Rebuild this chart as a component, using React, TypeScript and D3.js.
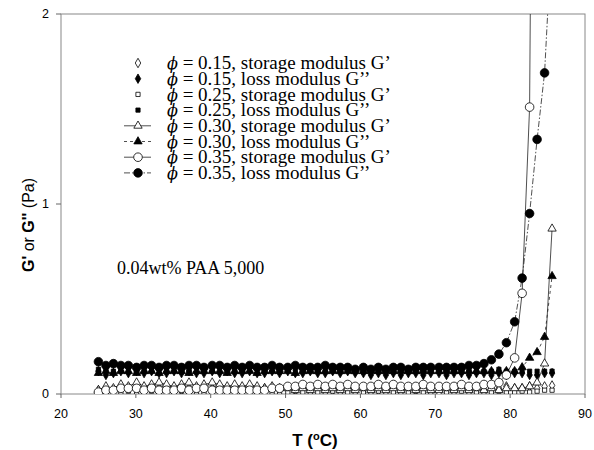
import * as d3 from 'd3'

// temperature readings (°C), shared by all series
const temps = [
  25.0, 26.0, 27.0, 28.0, 29.0, 30.1, 31.1, 32.1, 33.1, 34.1,
  35.1, 36.1, 37.1, 38.1, 39.1, 40.2, 41.2, 42.2, 43.2, 44.2,
  45.2, 46.2, 47.2, 48.2, 49.2, 50.3, 51.3, 52.3, 53.3, 54.3,
  55.3, 56.3, 57.3, 58.3, 59.3, 60.4, 61.4, 62.4, 63.4, 64.4,
  65.4, 66.4, 67.4, 68.4, 69.4, 70.5, 71.5, 72.5, 73.5, 74.5,
  75.5, 76.5, 77.5, 78.5, 79.5, 80.6, 81.6, 82.6, 83.6, 84.6,
  85.6,
]

const phi15Storage = [
  0.02, 0.03, 0.02, 0.03, 0.03, 0.04, 0.02, 0.03, 0.03, 0.02,
  0.03, 0.02, 0.03, 0.02, 0.03, 0.03, 0.02, 0.03, 0.02, 0.03,
  0.02, 0.02, 0.03, 0.02, 0.02, 0.03, 0.02, 0.03, 0.02, 0.03,
  0.02, 0.02, 0.03, 0.02, 0.03, 0.02, 0.03, 0.02, 0.02, 0.03,
  0.02, 0.03, 0.02, 0.03, 0.02, 0.02, 0.03, 0.02, 0.03, 0.02,
  0.03, 0.02, 0.03, 0.03, 0.04, 0.03, 0.03, 0.04, 0.03, 0.04,
  0.045,
]
const phi15Loss = [
  0.12, 0.10, 0.11, 0.12, 0.11, 0.12, 0.11, 0.12, 0.11, 0.11,
  0.12, 0.11, 0.12, 0.11, 0.11, 0.12, 0.11, 0.12, 0.11, 0.11,
  0.12, 0.11, 0.11, 0.12, 0.11, 0.12, 0.11, 0.11, 0.12, 0.11,
  0.11, 0.12, 0.11, 0.12, 0.11, 0.11, 0.10, 0.11, 0.10, 0.11,
  0.10, 0.11, 0.11, 0.10, 0.11, 0.11, 0.10, 0.11, 0.11, 0.10,
  0.11, 0.11, 0.10, 0.11, 0.10, 0.11, 0.11, 0.10, 0.10, 0.11,
  0.11,
]
const phi25Storage = [
  0.005, 0.01, 0.01, 0.01, 0.015, 0.01, 0.01, 0.015, 0.01, 0.01,
  0.01, 0.015, 0.01, 0.01, 0.01, 0.01, 0.015, 0.01, 0.01, 0.01,
  0.01, 0.01, 0.015, 0.01, 0.01, 0.01, 0.015, 0.01, 0.01, 0.01,
  0.01, 0.015, 0.01, 0.01, 0.01, 0.01, 0.01, 0.015, 0.01, 0.01,
  0.01, 0.01, 0.015, 0.01, 0.01, 0.005, 0.01, 0.01, 0.015, 0.01,
  0.01, 0.01, 0.01, 0.015, 0.01, 0.01, 0.015, 0.01, 0.015, 0.02,
  0.02,
]
const phi25Loss = [
  0.13, 0.13, 0.12, 0.13, 0.14, 0.13, 0.13, 0.14, 0.13, 0.13,
  0.14, 0.13, 0.13, 0.14, 0.13, 0.13, 0.14, 0.13, 0.13, 0.13,
  0.14, 0.13, 0.13, 0.13, 0.12, 0.13, 0.13, 0.12, 0.13, 0.13,
  0.12, 0.13, 0.12, 0.13, 0.12, 0.12, 0.12, 0.13, 0.12, 0.12,
  0.13, 0.12, 0.12, 0.12, 0.13, 0.12, 0.12, 0.12, 0.13, 0.12,
  0.12, 0.12, 0.12, 0.13, 0.12, 0.12, 0.12, 0.12, 0.12, 0.12,
  0.12,
]
const phi30Storage = [
  0.02, 0.04, 0.03, 0.05, 0.04, 0.06, 0.04, 0.05, 0.06, 0.05,
  0.04, 0.05, 0.06, 0.04, 0.05, 0.06, 0.05, 0.04, 0.05, 0.04,
  0.05, 0.04, 0.03, 0.04, 0.03, 0.03, 0.02, 0.03, 0.02, 0.03,
  0.02, 0.03, 0.02, 0.03, 0.02, 0.03, 0.02, 0.03, 0.02, 0.03,
  0.02, 0.03, 0.02, 0.03, 0.02, 0.02, 0.03, 0.02, 0.03, 0.02,
  0.03, 0.02, 0.03, 0.02, 0.03, 0.03, 0.03, 0.04, 0.06, 0.16,
  0.87,
]
const phi30Loss = [
  0.11, 0.12, 0.11, 0.12, 0.12, 0.11, 0.12, 0.12, 0.11, 0.12,
  0.12, 0.12, 0.11, 0.12, 0.12, 0.12, 0.12, 0.11, 0.12, 0.12,
  0.12, 0.11, 0.12, 0.12, 0.12, 0.12, 0.11, 0.12, 0.12, 0.12,
  0.12, 0.12, 0.12, 0.12, 0.12, 0.12, 0.12, 0.12, 0.12, 0.12,
  0.12, 0.12, 0.12, 0.12, 0.12, 0.12, 0.12, 0.12, 0.12, 0.12,
  0.12, 0.12, 0.12, 0.12, 0.12, 0.12, 0.14, 0.19, 0.22, 0.30,
  0.62,
]
const phi35Storage = [
  0.01, 0.02, 0.02, 0.03, 0.03, 0.03, 0.02, 0.03, 0.02, 0.02,
  0.02, 0.03, 0.02, 0.03, 0.03, 0.02, 0.02, 0.02, 0.02, 0.02,
  0.02, 0.02, 0.02, 0.03, 0.03, 0.04, 0.04, 0.05, 0.04, 0.05,
  0.04, 0.05, 0.04, 0.05, 0.04, 0.04, 0.04, 0.05, 0.04, 0.05,
  0.04, 0.04, 0.04, 0.05, 0.04, 0.04, 0.04, 0.04, 0.05, 0.04,
  0.04, 0.05, 0.05, 0.06, 0.10, 0.19, 0.53, 1.51, 7.0,
]
const phi35Loss = [
  0.17, 0.15, 0.16, 0.15, 0.15, 0.14, 0.15, 0.15, 0.14, 0.15,
  0.15, 0.14, 0.15, 0.15, 0.14, 0.15, 0.15, 0.14, 0.15, 0.14,
  0.15, 0.14, 0.14, 0.15, 0.14, 0.14, 0.15, 0.14, 0.14, 0.14,
  0.15, 0.14, 0.14, 0.14, 0.13, 0.14, 0.13, 0.14, 0.13, 0.14,
  0.14, 0.13, 0.14, 0.14, 0.14, 0.14, 0.14, 0.14, 0.14, 0.15,
  0.15, 0.16, 0.18, 0.21, 0.27, 0.38, 0.61, 0.95, 1.34, 1.69,
  2.45,
]

const legendPhi = ['0.15', '0.15', '0.25', '0.25', '0.30', '0.30', '0.35', '0.35']
const legendText = [
  'storage modulus G\u2019', 'loss modulus G\u2019\u2019',
  'storage modulus G\u2019', 'loss modulus G\u2019\u2019',
  'storage modulus G\u2019', 'loss modulus G\u2019\u2019',
  'storage modulus G\u2019', 'loss modulus G\u2019\u2019',
]
const xTicks = [20, 30, 40, 50, 60, 70, 80, 90]
const yTicks = [0, 1, 2]

type Series = {
  values: number[]
  shape: 'diamond' | 'square' | 'triangle' | 'circle'
  filled: boolean
  dash: string | null // null = no connecting line
}

const series: Series[] = [
  { values: phi15Storage, shape: 'diamond', filled: false, dash: null },
  { values: phi15Loss, shape: 'diamond', filled: true, dash: null },
  { values: phi25Storage, shape: 'square', filled: false, dash: null },
  { values: phi25Loss, shape: 'square', filled: true, dash: null },
  { values: phi30Storage, shape: 'triangle', filled: false, dash: '' },
  { values: phi30Loss, shape: 'triangle', filled: true, dash: '3,3' },
  { values: phi35Storage, shape: 'circle', filled: false, dash: '' },
  { values: phi35Loss, shape: 'circle', filled: true, dash: '6,2,1.5,2' },
]

const symbolPaths = {
  diamond: d3.symbol().type(d3.symbolDiamond).size(26)() as string,
  square: d3.symbol().type(d3.symbolSquare).size(18)() as string,
  triangle: d3.symbol().type(d3.symbolTriangle).size(30)() as string,
}

function Marker({ s, cx, cy }: { s: Series; cx: number; cy: number }) {
  const fill = s.filled ? '#000' : '#fff'
  if (s.shape === 'circle') {
    return <circle cx={cx} cy={cy} r={4.3} fill={fill} stroke="#000" strokeWidth={0.8} />
  }
  return (
    <path
      d={symbolPaths[s.shape]}
      transform={`translate(${cx},${cy})`}
      fill={fill}
      stroke="#000"
      strokeWidth={0.8}
    />
  )
}

export default function App() {
  const x = d3.scaleLinear().domain([20, 90]).range([61, 585])
  const y = d3.scaleLinear().domain([0, 2]).range([394, 14])
  const [x0, x1] = x.range()
  const [y0, y1] = y.range()

  const line = d3
    .line<number>()
    .x((_, i) => x(temps[i]))
    .y((d) => y(d))

  const sans = 'Arial, "Liberation Sans", sans-serif'
  const serif = '"Times New Roman", "Liberation Serif", serif'

  return (
    <svg
      width={594}
      height={450}
      style={{ position: 'absolute', left: 0, top: 0, background: '#fff' }}
    >
      <defs>
        <clipPath id="plot">
          <rect x={x0} y={y1} width={x1 - x0} height={y0 - y1} />
        </clipPath>
      </defs>

      {/* frame */}
      <rect x={x0} y={y1} width={x1 - x0} height={y0 - y1} fill="none" stroke="#888" strokeWidth={1} />

      {/* y ticks */}
      {yTicks.map((t) => (
        <g key={t}>
          <line x1={x0 - 5} x2={x0} y1={y(t)} y2={y(t)} stroke="#666" />
          <text x={x0 - 12} y={y(t)} dy="0.35em" textAnchor="end" fontFamily={sans} fontSize={12.5}>
            {t}
          </text>
        </g>
      ))}

      {/* x ticks */}
      {xTicks.map((t) => (
        <g key={t}>
          <line x1={x(t)} x2={x(t)} y1={y0} y2={y0 + 4} stroke="#666" />
          <text x={x(t)} y={418} textAnchor="middle" fontFamily={sans} fontSize={12.5}>
            {t}
          </text>
        </g>
      ))}

      {/* axis titles */}
      <text x={315} y={446} textAnchor="middle" fontFamily={sans} fontSize={17} fontWeight="bold">
        T (<tspan fontSize={11} dy={-6}>o</tspan><tspan dy={6}>C)</tspan>
      </text>
      <text
        transform="translate(34,225) rotate(-90)"
        textAnchor="middle"
        fontFamily={sans}
        fontSize={16}
      >
        <tspan fontWeight="bold">G'</tspan> or <tspan fontWeight="bold">G''</tspan> (Pa)
      </text>

      {/* data */}
      <g clipPath="url(#plot)">
        {series.map((s, k) =>
          s.dash !== null ? (
            <path
              key={'l' + k}
              d={line(s.values) ?? ''}
              fill="none"
              stroke="#222"
              strokeWidth={0.8}
              strokeDasharray={s.dash || undefined}
            />
          ) : null
        )}
        {series.map((s, k) => (
          <g key={'m' + k}>
            {s.values.map((v, i) =>
              v <= 2.05 ? <Marker key={i} s={s} cx={x(temps[i])} cy={y(v)} /> : null
            )}
          </g>
        ))}
      </g>

      {/* legend */}
      {series.map((s, k) => {
        const ly = 63 + k * 15.7
        return (
          <g key={'lg' + k}>
            {s.dash !== null && (
              <line
                x1={124}
                x2={151}
                y1={ly}
                y2={ly}
                stroke="#222"
                strokeWidth={0.8}
                strokeDasharray={s.dash || undefined}
              />
            )}
            <Marker s={s} cx={138} cy={ly} />
            <text x={167} y={ly} dy="0.33em" fontFamily={serif} fontSize={19}>
              <tspan fontStyle="italic" fontFamily='"DejaVu Serif", serif' fontSize={16}>
                {'\u03D5'}
              </tspan>
              {` = ${legendPhi[k]}, ${legendText[k]}`}
            </text>
          </g>
        )
      })}

      <text x={117} y={268} dy="0.35em" fontFamily={serif} fontSize={18}>
        0.04wt% PAA 5,000
      </text>
    </svg>
  )
}
